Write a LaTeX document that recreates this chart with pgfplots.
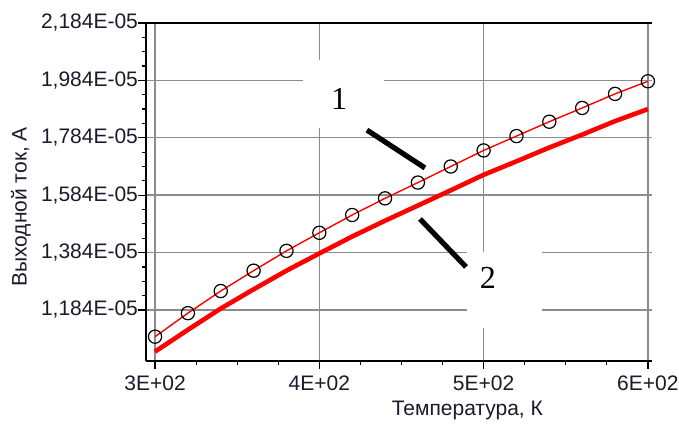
\documentclass[border=0pt]{standalone}
\usepackage{fontspec}
\setmainfont{Liberation Sans}
\newfontfamily\numserif{Liberation Serif}
\usepackage{pgfplots}
\pgfplotsset{compat=1.18}
\definecolor{gridgray}{HTML}{8C8C8C}
\definecolor{lblcol}{HTML}{1A1A2A}
\begin{document}
\begin{tikzpicture}
\useasboundingbox (-73pt,-31.25pt) rectangle (266.5pt,180.25pt);
\begin{axis}[
  at={(0,0)}, anchor=south west,
  width=253pt, height=168.75pt, scale only axis,
  xmin=294.5, xmax=602.5, ymin=1.008, ymax=2.184,
  axis lines=left, axis line style={-, black, line width=1pt},
  xtick={300,400,500,600},
  xticklabels={3E+02,4E+02,5E+02,6E+02},
  ytick={1.184,1.384,1.584,1.784,1.984,2.184},
  yticklabels={{1,184E-05},{1,384E-05},{1,584E-05},{1,784E-05},{1,984E-05},{2,184E-05}},
  minor x tick num=3, minor y tick num=3,
  tick align=outside, major tick length=4pt, minor tick length=2pt,
  tick style={black, line width=0.6pt},
  grid=major, major grid style={gridgray, line width=0.7pt},
  ticklabel style={font=\fontsize{10.5}{12}\selectfont, text=lblcol},
  yticklabel style={xshift=3.5pt},
  label style={font=\fontsize{10.5}{12}\selectfont, text=lblcol},
  xlabel={Температура, К},
  ylabel={Выходной ток, А},
  xlabel style={at={(rel axis cs:0.635,-0.147)}, anchor=center},
  ylabel style={at={(rel axis cs:-0.247,0.455)}, anchor=center},
  clip=false,
]
% white patches behind the callout labels
\fill[white] (axis cs:390.1,1.818) rectangle (axis cs:439.4,2.055);
\fill[white] (axis cs:489.9,1.121) rectangle (axis cs:535.5,1.386);

\addplot[red, line width=2.3pt] coordinates {
(300,1.039) (320,1.115) (340,1.189) (360,1.256) (380,1.321) (400,1.381)
(420,1.440) (440,1.495) (460,1.548) (480,1.601) (500,1.655) (520,1.702)
(540,1.750) (560,1.795) (580,1.842) (600,1.884)};

\addplot[red, line width=0.7pt, mark=o, mark size=3.3pt,
  mark options={draw=black, fill=white, line width=0.6pt, solid}] coordinates {
(300,1.091) (320,1.173) (340,1.250) (360,1.321) (380,1.390) (400,1.453)
(420,1.515) (440,1.573) (460,1.628) (480,1.684) (500,1.740) (520,1.790)
(540,1.840) (560,1.888) (580,1.937) (600,1.981)};

\draw[black, line width=1pt] (rel axis cs:0,1) -- (rel axis cs:1,1);
\draw[black, line width=2.6pt] (axis cs:429.0,1.811) -- (axis cs:464.3,1.679);
\draw[black, line width=2.6pt] (axis cs:461.3,1.501) -- (axis cs:489.3,1.334);
\node[font=\numserif\fontsize{16}{18}\selectfont] at (axis cs:412.0,1.919) {1};
\node[font=\numserif\fontsize{16}{18}\selectfont] at (axis cs:502.6,1.295) {2};
\end{axis}
\end{tikzpicture}
\end{document}
